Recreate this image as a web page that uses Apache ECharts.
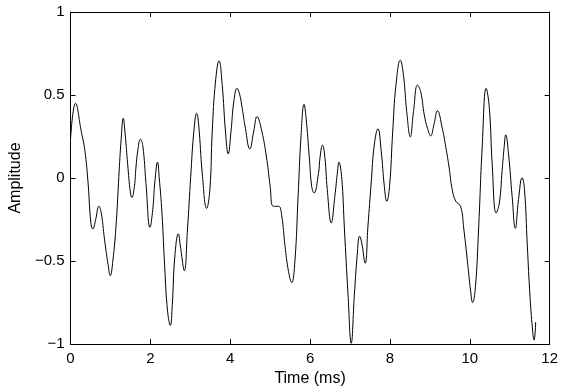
<!DOCTYPE html>
<html>
<head>
<meta charset="utf-8">
<script src="https://cdn.jsdelivr.net/npm/echarts@6/dist/echarts.min.js"></script>
<style>
  html, body { margin: 0; padding: 0; background: #fff; }
  #chart { width: 561px; height: 392px; }
</style>
</head>
<body>
<div id="chart"></div>
<script>
// time in ms
var times = [0, 0.125, 0.27, 0.36, 0.44, 0.51, 0.56, 0.63, 0.71, 0.77, 0.85, 0.94, 0.995, 1.06, 1.145, 1.21, 1.27, 1.32, 1.37, 1.43, 1.50, 1.535, 1.60, 1.64, 1.685, 1.75, 1.81, 1.89, 1.99, 2.06, 2.11, 2.18, 2.22, 2.29, 2.36, 2.43, 2.50, 2.55, 2.61, 2.70, 2.76, 2.85, 2.93, 3.01, 3.09, 3.16, 3.21, 3.30, 3.41, 3.49, 3.55, 3.63, 3.72, 3.80, 3.88, 3.95, 4.02, 4.09, 4.17, 4.23, 4.30, 4.38, 4.49, 4.59, 4.67, 4.79, 4.92, 5.00, 5.08, 5.21, 5.29, 5.37, 5.46, 5.54, 5.62, 5.70, 5.77, 5.85, 5.90, 5.98, 6.04, 6.10, 6.21, 6.25, 6.31, 6.37, 6.43, 6.53, 6.62, 6.69, 6.72, 6.79, 6.86, 6.95, 7.03, 7.11, 7.18, 7.24, 7.29, 7.38, 7.45, 7.53, 7.61, 7.70, 7.78, 7.86, 7.92, 7.99, 8.07, 8.15, 8.26, 8.34, 8.42, 8.51, 8.59, 8.69, 8.77, 8.86, 8.94, 9.02, 9.10, 9.19, 9.31, 9.40, 9.48, 9.56, 9.65, 9.77, 9.85, 9.94, 10.02, 10.07, 10.14, 10.22, 10.31, 10.41, 10.49, 10.56, 10.66, 10.74, 10.81, 10.86, 10.90, 10.97, 11.06, 11.14, 11.22, 11.31, 11.37, 11.44, 11.51, 11.58, 11.61, 11.65];
var amps = [0.234, 0.45, 0.28, 0.165, -0.03, -0.27, -0.307, -0.25, -0.17, -0.21, -0.366, -0.52, -0.588, -0.50, -0.27, 0.008, 0.24, 0.36, 0.26, 0.086, -0.09, -0.117, -0.05, 0.067, 0.165, 0.234, 0.195, -0.032, -0.297, -0.19, -0.03, 0.096, 0.008, -0.21, -0.54, -0.80, -0.887, -0.76, -0.48, -0.336, -0.425, -0.558, -0.307, 0.008, 0.283, 0.39, 0.32, 0.027, -0.183, -0.07, 0.283, 0.578, 0.706, 0.558, 0.283, 0.145, 0.283, 0.46, 0.54, 0.51, 0.42, 0.30, 0.175, 0.283, 0.37, 0.283, 0.106, -0.05, -0.17, -0.17, -0.228, -0.405, -0.563, -0.63, -0.50, -0.11, 0.24, 0.444, 0.36, 0.126, -0.05, -0.09, 0.027, 0.126, 0.198, 0.126, -0.07, -0.27, -0.11, 0.047, 0.096, 0.008, -0.307, -0.70, -0.995, -0.70, -0.464, -0.35, -0.386, -0.513, -0.287, -0.03, 0.204, 0.297, 0.165, -0.05, -0.14, -0.05, 0.283, 0.558, 0.71, 0.617, 0.40, 0.248, 0.40, 0.56, 0.52, 0.38, 0.30, 0.254, 0.32, 0.405, 0.30, 0.185, 0.067, -0.07, -0.14, -0.17, -0.307, -0.50, -0.68, -0.75, -0.66, -0.307, 0.185, 0.54, 0.42, 0.086, -0.21, -0.15, 0.047, 0.185, 0.26, 0.145, -0.11, -0.303, -0.13, 0.002, -0.07, -0.405, -0.72, -0.936, -0.976, -0.867];

var xTicks = [0, 2, 4, 6, 8, 10, 12];
var yTicks = [-1, -0.5, 0, 0.5, 1];

var fontName = 'Liberation Sans, Arial, Helvetica, sans-serif';

var data = [];
for (var i = 0; i < times.length; i++) {
	data.push([times[i], amps[i]]);
}

function fmtNum(v) {
	return String(v).replace('-', '\u2212');
}

var chart = echarts.init(document.getElementById('chart'), null, { renderer: 'canvas' });

// frame axes: bottom/left carry labels, top/right only ticks
var axisLineStyle = { show: true, onZero: false, lineStyle: { color: '#000', width: 1 } };
var tickStyle = { show: true, inside: true, length: 5, lineStyle: { color: '#000', width: 1 } };

chart.setOption({
	animation: false,
	backgroundColor: '#fff',
	grid: { left: 67, right: 11, top: 12, bottom: 41, containLabel: false },
	xAxis: [{
		type: 'value',
		min: xTicks[0], max: xTicks[xTicks.length - 1], interval: 2,
		position: 'bottom',
		axisLine: axisLineStyle,
		axisTick: tickStyle,
		splitLine: { show: false },
		axisLabel: { color: '#000', fontSize: 15, fontFamily: fontName, margin: 7, formatter: fmtNum },
		name: 'Time (ms)',
		nameLocation: 'middle',
		nameGap: 24,
		nameTextStyle: { color: '#000', fontSize: 16, fontFamily: fontName }
	}, {
		type: 'value',
		min: xTicks[0], max: xTicks[xTicks.length - 1], interval: 2,
		position: 'top',
		axisLine: axisLineStyle,
		axisTick: tickStyle,
		splitLine: { show: false },
		axisLabel: { show: false }
	}],
	yAxis: [{
		type: 'value',
		min: yTicks[0], max: yTicks[yTicks.length - 1], interval: 0.5,
		position: 'left',
		axisLine: axisLineStyle,
		axisTick: tickStyle,
		splitLine: { show: false },
		axisLabel: { color: '#000', fontSize: 15, fontFamily: fontName, margin: 6, formatter: fmtNum },
		name: 'Amplitude',
		nameLocation: 'middle',
		nameGap: 42,
		nameTextStyle: { color: '#000', fontSize: 16, fontFamily: fontName }
	}, {
		type: 'value',
		min: yTicks[0], max: yTicks[yTicks.length - 1], interval: 0.5,
		position: 'right',
		axisLine: axisLineStyle,
		axisTick: tickStyle,
		splitLine: { show: false },
		axisLabel: { show: false }
	}],
	series: [{
		type: 'line',
		data: data,
		xAxisIndex: 0,
		yAxisIndex: 0,
		showSymbol: false,
		smooth: 0.45,
		lineStyle: { color: '#000', width: 1 }
	}]
});
</script>
</body>
</html>
